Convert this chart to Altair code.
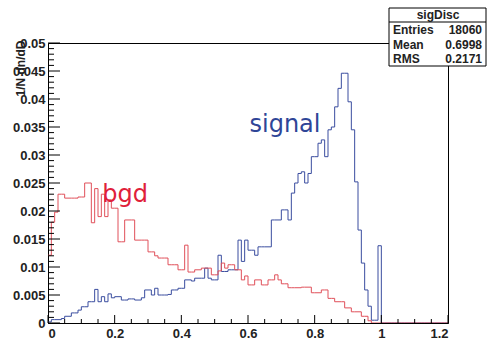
import altair as alt
import pandas as pd

# ---- data: per-bin contents, bins of 0.01 from 0 to 1.2 ----
bin_width = 0.01
signal = [0.0002, 0.0006, 0.0006, 0.0006, 0.0008, 0.0012, 0.0012, 0.0018, 0.0018, 0.0023,
          0.0029, 0.0029, 0.0038, 0.0038, 0.0060, 0.0038, 0.0047, 0.0038, 0.0052, 0.0045,
          0.0047, 0.0047, 0.0041, 0.0041, 0.0043, 0.0043, 0.0041, 0.0041, 0.0045, 0.0059,
          0.0059, 0.0050, 0.0062, 0.0050, 0.0050, 0.0050, 0.0051, 0.0059, 0.0059, 0.0062,
          0.0062, 0.0077, 0.0077, 0.0075, 0.0080, 0.0080, 0.0080, 0.0098, 0.0080, 0.0077,
          0.0077, 0.0121, 0.0092, 0.0092, 0.0095, 0.0095, 0.0095, 0.0148, 0.0110, 0.0148,
          0.0130, 0.0130, 0.0121, 0.0136, 0.0136, 0.0136, 0.0136, 0.0184, 0.0184, 0.0184,
          0.0202, 0.0202, 0.0184, 0.0232, 0.0250, 0.0267, 0.0270, 0.0250, 0.0267, 0.0297,
          0.0297, 0.0321, 0.0327, 0.0297, 0.0345, 0.0350, 0.0386, 0.0419, 0.0446, 0.0446,
          0.0395, 0.0345, 0.0252, 0.0166, 0.0107, 0.0059, 0.0030, 0.0005, 0.0005, 0.0138]
bgd = [0.0121, 0.0180, 0.0198, 0.0230, 0.0230, 0.0223, 0.0223, 0.0223, 0.0223, 0.0225,
       0.0225, 0.0250, 0.0250, 0.0179, 0.0240, 0.0190, 0.0230, 0.0190, 0.0220, 0.0205,
       0.0205, 0.0145, 0.0145, 0.0184, 0.0184, 0.0184, 0.0148, 0.0148, 0.0148, 0.0148,
       0.0127, 0.0127, 0.0120, 0.0116, 0.0116, 0.0116, 0.0104, 0.0104, 0.0104, 0.0095,
       0.0095, 0.0139, 0.0091, 0.0091, 0.0095, 0.0095, 0.0098, 0.0098, 0.0098, 0.0086,
       0.0086, 0.0093, 0.0107, 0.0098, 0.0104, 0.0104, 0.0095, 0.0095, 0.0077, 0.0084,
       0.0068, 0.0068, 0.0077, 0.0077, 0.0068, 0.0068, 0.0077, 0.0077, 0.0086, 0.0077,
       0.0070, 0.0070, 0.0063, 0.0063, 0.0063, 0.0063, 0.0064, 0.0064, 0.0064, 0.0054,
       0.0054, 0.0054, 0.0059, 0.0059, 0.0044, 0.0044, 0.0038, 0.0038, 0.0038, 0.0027,
       0.0027, 0.0020, 0.0020, 0.0020, 0.0012, 0.0012, 0.0004, 0.0, 0.0, 0.0]
n_bins = 120

x_major = [0, 0.2, 0.4, 0.6, 0.8, 1.0, 1.2]
y_major = [0, 0.005, 0.01, 0.015, 0.02, 0.025, 0.03, 0.035, 0.04, 0.045, 0.05]

labels_text = ["signal", "bgd"]
labels_x = [0.711, 0.231]
labels_y = [0.0354, 0.0229]
labels_color = ["#2f4597", "#e0203a"]

stat_title = "sigDisc"
stat_names = ["Entries", "Mean", "RMS"]
stat_values = ["18060", "0.6998", "0.2171"]

# ---- build tables ----
def steps(vals):
    full = list(vals) + [0.0] * (n_bins - len(vals))
    xs = [round(i * bin_width, 4) for i in range(n_bins + 1)]
    ys = full + [full[-1]]
    return pd.DataFrame({"x": xs, "y": ys})

sig_df = steps(signal)
bgd_df = steps(bgd)

x_minor = [round(i * 0.05, 4) for i in range(25) if round(i * 0.05, 4) not in x_major]
y_minor = [round(i * 0.001, 4) for i in range(51)
           if all(abs(round(i * 0.001, 4) - m) > 1e-9 for m in y_major)]

xs = alt.Scale(domain=[0, 1.2], nice=False, zero=False)
ys = alt.Scale(domain=[0, 0.05], nice=False)

FONT = "Liberation Sans"

ax_x = alt.Axis(values=x_major, format="~g", tickSize=0, grid=False,
                labelFont=FONT, labelFontWeight="bold", labelFontSize=13,
                labelColor="#222", domainColor="#000", labelPadding=4, title=None)
ax_y = alt.Axis(values=y_major, format="~g", tickSize=0, grid=False,
                labelFont=FONT, labelFontWeight="bold", labelFontSize=13,
                labelColor="#222", domainColor="#000", labelPadding=3,
                title="1/N dn/dD", titleFont=FONT, titleFontSize=12,
                titleFontWeight="bold", titleColor="#222",
                titleX=-28, titleY=-3, titleAlign="right",
                titleBaseline="middle", titleAngle=270)

def X(f):
    return alt.X(f, scale=xs, axis=ax_x)

def Y(f):
    return alt.Y(f, scale=ys, axis=ax_y)

sig_line = alt.Chart(sig_df).mark_line(interpolate="step-after", color="#3a4d9f", strokeWidth=1, clip=True).encode(
    x=X("x:Q"), y=Y("y:Q"))

bgd_line = alt.Chart(bgd_df).mark_line(interpolate="step-after", color="#e0505a", strokeWidth=1, clip=True).encode(
    x=X("x:Q"), y=Y("y:Q"))

# inward ticks (ROOT style)
ytick_major = alt.Chart(pd.DataFrame({"y": y_major})).mark_rule(color="#000", strokeWidth=1).encode(
    y=Y("y:Q"), x=alt.value(0), x2=alt.value(12))
ytick_minor = alt.Chart(pd.DataFrame({"y": y_minor})).mark_rule(color="#000", strokeWidth=1).encode(
    y=Y("y:Q"), x=alt.value(0), x2=alt.value(6))
xtick_major = alt.Chart(pd.DataFrame({"x": x_major})).mark_rule(color="#000", strokeWidth=1).encode(
    x=X("x:Q"), y=alt.value(280), y2=alt.value(272))
xtick_minor = alt.Chart(pd.DataFrame({"x": x_minor})).mark_rule(color="#000", strokeWidth=1).encode(
    x=X("x:Q"), y=alt.value(280), y2=alt.value(276))

labels = alt.Chart(pd.DataFrame({"t": labels_text, "x": labels_x, "y": labels_y, "c": labels_color})).mark_text(
    font="DejaVu Sans", fontSize=24, align="center", baseline="middle").encode(
    x=X("x:Q"), y=Y("y:Q"), text="t:N", color=alt.Color("c:N", scale=None))

one = pd.DataFrame({"a": [0]})
box = alt.Chart(one).mark_rect(fill="white", stroke="#000", strokeWidth=1).encode(
    x=alt.value(341), x2=alt.value(438), y=alt.value(-35), y2=alt.value(23))
box_div = alt.Chart(one).mark_rule(color="#000", strokeWidth=1).encode(
    x=alt.value(341), x2=alt.value(438), y=alt.value(-21))
box_title = alt.Chart(one).mark_text(font=FONT, fontSize=12, fontWeight="bold", color="#222",
                                     align="center", baseline="middle").encode(
    x=alt.value(390), y=alt.value(-28), text=alt.value(stat_title))
box_names = alt.Chart(one).mark_text(font=FONT, fontSize=12, fontWeight="bold", color="#222",
                                     align="left", baseline="middle", lineHeight=14.5).encode(
    x=alt.value(345), y=alt.value(-13), text=alt.value(stat_names))
box_vals = alt.Chart(one).mark_text(font=FONT, fontSize=12, fontWeight="bold", color="#222",
                                    align="right", baseline="middle", lineHeight=14.5).encode(
    x=alt.value(434), y=alt.value(-13), text=alt.value(stat_values))

chart = alt.layer(
    sig_line, bgd_line, ytick_major, ytick_minor, xtick_major, xtick_minor, labels,
    box, box_div, box_title, box_names, box_vals
).properties(
    width=400, height=280,
    autosize=alt.AutoSizeParams(type="none"),
    padding={"left": 48, "top": 43, "right": 39, "bottom": 18},
    background="white",
).configure_view(stroke="#000", strokeWidth=1)

chart.save("out.html", embed_options={"renderer": "svg", "actions": False})
